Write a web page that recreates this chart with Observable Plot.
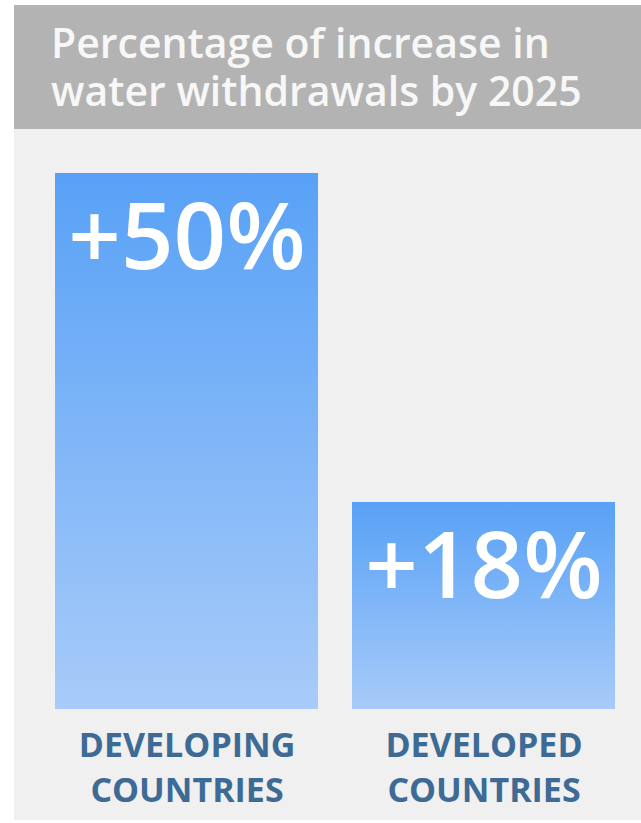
<!DOCTYPE html>
<html>
<head>
<meta charset="utf-8">
<script src="https://cdn.jsdelivr.net/npm/d3@7"></script>
<script src="https://cdn.jsdelivr.net/npm/@observablehq/plot@0.6"></script>
<style>
  html, body { margin: 0; padding: 0; background: #ffffff; }
  #card { position: absolute; left: 14px; top: 5px; width: 627px; height: 815px; background: #f0f0f0; overflow: hidden; }
  #header { height: 124px; background: #b3b3b3; box-sizing: border-box; padding: 13px 0 0 37px; }
  #header h1 { margin: 0; font-family: "Open Sans", sans-serif; font-weight: 600; font-size: 41px; line-height: 48px; color: #f7f7f7; letter-spacing: 0px; }
  #chart svg { display: block; }
</style>
</head>
<body>
<div id="card">
  <div id="header"><h1>Percentage of increase in<br>water withdrawals by 2025</h1></div>
  <div id="chart"></div>
</div>
<script>
const categories = ["Developing countries", "Developed countries"];
const values = [50, 18];
const valueLabels = ["+50%", "+18%"];
const tickLabels = ["DEVELOPING\nCOUNTRIES", "DEVELOPED\nCOUNTRIES"];

const data = categories.map((c, i) => ({category: c, value: values[i], label: valueLabels[i]}));
const yMin = -2.14;

const plot = Plot.plot({
  width: 627,
  height: 686,
  marginTop: 44,
  marginBottom: 106,
  marginLeft: 41,
  marginRight: 26,
  style: {background: "transparent", fontFamily: "Open Sans, sans-serif"},
  x: {domain: categories, paddingInner: 0.1145, paddingOuter: 0, axis: null, label: null},
  y: {domain: [yMin, 50], axis: null},
  marks: [
    Plot.barY(data, {x: "category", y1: yMin, y2: "value", fill: "url(#barGrad)"}),
    Plot.text(data, {x: "category", y: "value", text: "label", lineAnchor: "top", dy: 30,
      fill: "#ffffff", fontSize: 92, fontWeight: 600, textAnchor: "middle"}),
    Plot.axisX({tickSize: 0, tickPadding: 16, fontSize: 34, fontWeight: 700, lineHeight: 1.32,
      fill: "#3d6b96", color: "#3d6b96", label: null,
      tickFormat: (d) => tickLabels[categories.indexOf(d)]})
  ]
});

const svg = d3.select(plot);
const grad = svg.insert("defs", ":first-child").append("linearGradient")
  .attr("id", "barGrad").attr("x1", 0).attr("y1", 0).attr("x2", 0).attr("y2", 1);
grad.append("stop").attr("offset", "0%").attr("stop-color", "#58a1f6");
grad.append("stop").attr("offset", "100%").attr("stop-color", "#a8cbf9");

document.getElementById("chart").appendChild(plot);
</script>
</body>
</html>
